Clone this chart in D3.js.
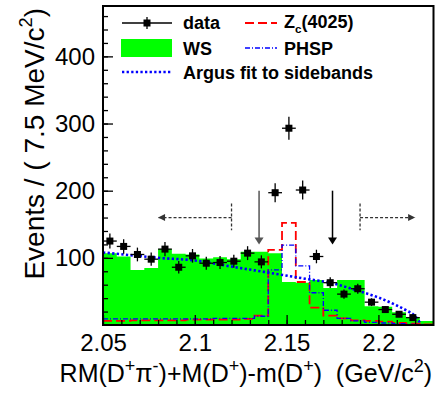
<!DOCTYPE html>
<html>
<head>
<meta charset="utf-8">
<script src="https://cdn.jsdelivr.net/npm/d3@7"></script>
<style>
  body { margin: 0; background: #fff; }
  text { font-family: "Liberation Sans", Arial, Helvetica, sans-serif; }
</style>
</head>
<body>
<script>
// binning: 7.5 MeV bins from 2.05 to 2.23
var binLo = 2.05, binW = 0.0075, nBins = 24
var edges = d3.range(nBins + 1).map(function(i) { return binLo + i * binW })

// data points (events per bin), last bin empty
var dataCounts = [125, 117, 105, 98, 113, 86, 103, 92, 93, 95, 107, 94, 197, 293, 201, 102, 63, 46, 54, 34, 23, 16, 11, null]
// wrong-sign background (green)
var wsCounts = [107, 102, 82, 85, 113, 106, 105, 99, 101, 98, 109, 109, 107, 64, 63, 67, 55, 67, 67, 28, 27, 19, 12, 6]
// Zc(4025) signal shape
var zcCounts = [6, 6, 7, 7, 7, 7, 8, 8, 8, 8, 9, 14, 112, 152, 64, 26, 14, 10, 7, 6, 5, 3, 2, 1]
// phase space
var phspCounts = [9, 9, 9, 9, 9, 9, 9, 9, 10, 10, 10, 13, 82, 119, 88, 48, 22, 10, 6, 4, 3, 2, 1, 0]
// Argus fit to sidebands
var argusMass = [2.05, 2.065, 2.08, 2.10, 2.12, 2.14, 2.16, 2.175, 2.19, 2.20, 2.21, 2.215, 2.22, 2.2235]
var argusVal = [108, 104, 100, 96, 87, 78, 69, 62, 50, 41, 29, 22, 13, 0]

// signal window arrows and sideband markers
var signalCuts = [2.135, 2.175]
var leftBand = [2.08, 2.12]
var rightBand = [2.19, 2.22]

var xTicks = [2.05, 2.1, 2.15, 2.2]
var yTicks = [100, 200, 300, 400]

var W = 440, H = 397
var svg = d3.select("body").append("svg").attr("width", W).attr("height", H)

var x = d3.scaleLinear().domain([2.05, 2.23]).range([103, 433.5])
var y = d3.scaleLinear().domain([0, 475]).range([325, 6])

function steps(vals) {
  var pts = []
  vals.forEach(function(v, i) { pts.push([edges[i], v]); pts.push([edges[i + 1], v]) })
  return pts
}
var stepLine = d3.line().x(function(d) { return x(d[0]) }).y(function(d) { return y(d[1]) })

var plot = svg.append("g")

// WS histogram
plot.append("path")
  .attr("d", d3.area().x(function(d) { return x(d[0]) }).y0(y(0)).y1(function(d) { return y(d[1]) })(steps(wsCounts)))
  .style("fill", "#00ff00")

// Zc(4025)
plot.append("path").attr("d", stepLine(steps(zcCounts)))
  .style("fill", "none").style("stroke", "#ff0000").style("stroke-width", 1.8).style("stroke-dasharray", "9,4")

// PHSP
plot.append("path").attr("d", stepLine(steps(phspCounts)))
  .style("fill", "none").style("stroke", "#0000ff").style("stroke-width", 1.3).style("stroke-dasharray", "5,2,1,2")

// Argus
plot.append("path")
  .attr("d", d3.line().curve(d3.curveMonotoneX).x(function(d, i) { return x(argusMass[i]) }).y(function(d) { return y(d) })(argusVal))
  .style("fill", "none").style("stroke", "#0000ff").style("stroke-width", 2.6).style("stroke-dasharray", "2.3,2.3")

// data points
var pts = dataCounts.map(function(v, i) { return { m: (edges[i] + edges[i + 1]) / 2, v: v } }).filter(function(d) { return d.v != null })
var half = (x(edges[1]) - x(edges[0])) / 2
var dp = plot.append("g").selectAll("g").data(pts).enter().append("g")
dp.append("line")
  .attr("x1", function(d) { return x(d.m) - half }).attr("x2", function(d) { return x(d.m) + half })
  .attr("y1", function(d) { return y(d.v) }).attr("y2", function(d) { return y(d.v) })
  .style("stroke", "#000").style("stroke-width", 1.3)
dp.append("line")
  .attr("x1", function(d) { return x(d.m) }).attr("x2", function(d) { return x(d.m) })
  .attr("y1", function(d) { return y(d.v + Math.sqrt(d.v)) }).attr("y2", function(d) { return y(d.v - Math.sqrt(d.v)) })
  .style("stroke", "#000").style("stroke-width", 1.3)
dp.append("rect")
  .attr("x", function(d) { return x(d.m) - 3.5 }).attr("y", function(d) { return y(d.v) - 3.5 })
  .attr("width", 7).attr("height", 7).style("fill", "#000")

// signal window arrows
signalCuts.forEach(function(c, i) {
  var col = i == 0 ? "#555" : "#000"
  var tip = y(120)
  plot.append("line").attr("x1", x(c)).attr("x2", x(c)).attr("y1", y(200)).attr("y2", tip - 4)
    .style("stroke", col).style("stroke-width", 1.5)
  plot.append("path").attr("d", "M" + (x(c) - 4.5) + "," + (tip - 7) + "L" + (x(c) + 4.5) + "," + (tip - 7) + "L" + x(c) + "," + tip + "Z")
    .style("fill", col)
})

// sideband arrows (dotted)
function sideband(inner, outer) {
  var g = plot.append("g")
  g.append("line").attr("x1", x(inner)).attr("x2", x(inner)).attr("y1", y(181)).attr("y2", y(141))
    .style("stroke", "#333").style("stroke-width", 1.3).style("stroke-dasharray", "3,2")
  g.append("line").attr("x1", x(inner)).attr("x2", x(outer)).attr("y1", y(160)).attr("y2", y(160))
    .style("stroke", "#333").style("stroke-width", 1.3).style("stroke-dasharray", "3,2")
  var dir = outer > inner ? 1 : -1, tx = x(outer), ty = y(160)
  g.append("path").attr("d", "M" + tx + "," + ty + "L" + (tx - dir * 7) + "," + (ty - 3.5) + "L" + (tx - dir * 7) + "," + (ty + 3.5) + "Z")
    .style("fill", "#333")
}
sideband(leftBand[1], leftBand[0])
sideband(rightBand[0], rightBand[1])

// axes
var ax = svg.append("g")
ax.append("g").attr("transform", "translate(" + x.range()[0] + ",0)")
  .call(d3.axisLeft(y).tickValues(d3.range(20, 475, 20)).tickSize(-5).tickFormat(""))
ax.append("g").attr("transform", "translate(" + x.range()[0] + ",0)")
  .call(d3.axisLeft(y).tickValues(yTicks).tickSize(-10).tickPadding(8).tickFormat(d3.format("d")))
ax.append("g").attr("transform", "translate(0," + y(0) + ")")
  .call(d3.axisBottom(x).tickValues(d3.range(2.06, 2.23, 0.01)).tickSize(-5).tickFormat(""))
ax.append("g").attr("transform", "translate(0," + y(0) + ")")
  .call(d3.axisBottom(x).tickValues(xTicks).tickSize(-10).tickPadding(9).tickFormat(function(d) { return String(+d.toFixed(2)) }))
ax.selectAll(".domain").remove()
ax.selectAll(".tick line").style("stroke", "#000").style("stroke-width", 1.3)
ax.selectAll(".tick text").style("font-size", "24px").style("fill", "#000")

// frame
svg.append("rect").attr("x", x.range()[0]).attr("y", y.range()[1])
  .attr("width", x.range()[1] - x.range()[0]).attr("height", y.range()[0] - y.range()[1])
  .style("fill", "none").style("stroke", "#000").style("stroke-width", 2)

// rich text helper: segments of [text, "sup"|"sub"|""]
function rich(sel, segs, size, small) {
  var shift = 0
  segs.forEach(function(s) {
    var target = s[1] == "sup" ? -size * 0.42 : s[1] == "sub" ? size * 0.3 : 0
    sel.append("tspan").attr("dy", target - shift)
      .style("font-size", (s[1] ? size * (small || 0.65) : size) + "px").text(s[0])
    shift = target
  })
}

// axis titles
var xt = svg.append("text").attr("x", 432).attr("y", 382).attr("text-anchor", "end").style("white-space", "pre")
rich(xt, [["RM(D", ""], ["+", "sup"], ["\u03c0", ""], ["-", "sup"], [")+M(D", ""], ["+", "sup"], [")-m(D", ""], ["+", "sup"], [")  (GeV/c", ""], ["2", "sup"], [")", ""]], 25, 0.72)

var yt = svg.append("text").attr("transform", "translate(44,8) rotate(-90)").attr("text-anchor", "end").style("white-space", "pre")
rich(yt, [["Events / ( 7.5 MeV/c", ""], ["2", "sup"], [")", ""]], 28)

// legend
var lg = svg.append("g").style("font-weight", "bold").style("font-size", "18px")
lg.append("line").attr("x1", 122).attr("x2", 172).attr("y1", 23).attr("y2", 23).style("stroke", "#000").style("stroke-width", 1.3)
lg.append("line").attr("x1", 147).attr("x2", 147).attr("y1", 17).attr("y2", 29).style("stroke", "#000").style("stroke-width", 1.3)
lg.append("rect").attr("x", 143.5).attr("y", 19.5).attr("width", 7).attr("height", 7).style("fill", "#000")
lg.append("text").attr("x", 183).attr("y", 29).text("data")

lg.append("rect").attr("x", 121).attr("y", 39).attr("width", 51).attr("height", 18).style("fill", "#00ff00")
lg.append("text").attr("x", 183).attr("y", 55).text("WS")

lg.append("line").attr("x1", 122).attr("x2", 172).attr("y1", 72).attr("y2", 72)
  .style("stroke", "#0000ff").style("stroke-width", 2.6).style("stroke-dasharray", "2.3,2.3")
lg.append("text").attr("x", 183).attr("y", 79).text("Argus fit to sidebands")

lg.append("line").attr("x1", 245).attr("x2", 277).attr("y1", 23).attr("y2", 23)
  .style("stroke", "#ff0000").style("stroke-width", 1.8).style("stroke-dasharray", "9,4")
var zt = lg.append("text").attr("x", 284).attr("y", 28)
rich(zt, [["Z", ""], ["c", "sub"], ["(4025)", ""]], 18)

lg.append("line").attr("x1", 245).attr("x2", 277).attr("y1", 48).attr("y2", 48)
  .style("stroke", "#0000ff").style("stroke-width", 1.3).style("stroke-dasharray", "5,2,1,2")
lg.append("text").attr("x", 284).attr("y", 55).text("PHSP")
</script>
</body>
</html>
